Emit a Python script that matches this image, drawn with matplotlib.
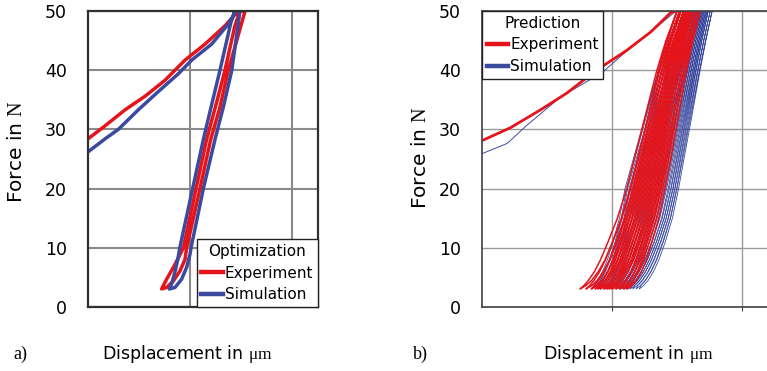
import matplotlib
matplotlib.use("Agg")
import matplotlib.pyplot as plt
from matplotlib.lines import Line2D

plt.rcParams['font.family'] = ['DejaVu Sans']
plt.rcParams['mathtext.fontset'] = 'custom'
plt.rcParams['mathtext.rm'] = 'Liberation Serif'
plt.rcParams['mathtext.it'] = 'Liberation Serif'

RED = "#E5141B"
BLUE = "#3B4A9E"

# ---- panel a) optimization: one loop, x in grid units, force in N ----
a_exp_x = [0.0, 0.167, 0.363, 0.559, 0.755, 0.951, 1.147, 1.343, 1.441, 1.50,
           1.54, 1.376, 1.29, 1.203, 1.098, 0.967, 0.951, 0.902, 0.837, 0.771, 0.722,
           0.771, 0.837, 0.886, 0.935, 1.059, 1.163, 1.26, 1.343, 1.44, 1.49]
a_exp_f = [28.4, 30.6, 33.3, 35.6, 38.3, 41.7, 44.4, 47.5, 49.4, 50.0,
           50.0, 40.0, 33.5, 28.3, 20.0, 10.0, 8.05, 6.1, 4.4, 3.3, 3.05,
           4.7, 6.7, 8.3, 10.0, 20.0, 28.3, 34.5, 40.0, 47.5, 50.0]

a_sim_x = [0.0, 0.167, 0.297, 0.493, 0.69, 0.886, 1.016, 1.212, 1.376, 1.425, 1.44,
           1.49, 1.41, 1.33, 1.245, 1.131, 1.01, 1.0, 0.967, 0.918, 0.853, 0.797,
           0.82, 0.855, 0.88, 0.90, 1.026, 1.131, 1.21, 1.294, 1.40, 1.44]
a_sim_f = [26.2, 28.4, 30.0, 33.3, 36.4, 39.4, 41.7, 44.4, 47.8, 49.2, 50.0,
           50.0, 40.0, 34.0, 28.3, 20.0, 10.0, 8.9, 6.7, 4.7, 3.3, 3.05,
           3.9, 6.1, 8.0, 10.0, 20.0, 28.3, 34.0, 40.0, 48.0, 50.0]

# ---- panel b) prediction: first loading, then many cycles ----
b_exp_x0 = [0.0, 0.22, 0.45, 0.65, 0.88, 1.11, 1.30, 1.45, 1.48]
b_exp_f0 = [28.1, 30.3, 33.3, 36.1, 40.0, 43.3, 46.5, 49.7, 50.0]
b_sim_x0 = [0.0, 0.19, 0.215, 0.34, 0.60, 0.93, 1.11, 1.30, 1.47, 1.50]
b_sim_f0 = [25.9, 27.6, 28.05, 30.6, 35.4, 39.7, 43.2, 46.5, 49.6, 50.0]

# loop shape below 20 N (share of tip->mid) and above 20 N (share of mid->top)
exp_low_f = [3.05, 3.6, 4.5, 6, 8, 11, 15, 20]
exp_low_s = [0, 0.08, 0.18, 0.31, 0.44, 0.60, 0.80, 1.0]
exp_high_f = [25, 30, 35, 40, 45, 50]
exp_high_s = [0.15, 0.30, 0.45, 0.60, 0.78, 1.0]
exp_gap = [0, 0.015, 0.025, 0.03, 0.035, 0.035, 0.035, 0.03, 0.03, 0.025, 0.02, 0.015, 0.008, 0]

sim_low_f = [3.05, 3.6, 4.5, 6, 8, 11, 15, 20]
sim_low_s = [0, 0.10, 0.22, 0.36, 0.50, 0.66, 0.84, 1.0]
sim_high_f = [25, 30, 35, 40, 45, 50]
sim_high_s = [0.16, 0.32, 0.48, 0.64, 0.81, 1.0]
sim_gap = [0.02, 0.02, 0.02, 0.018, 0.016, 0.015, 0.014, 0.012, 0.01, 0.009, 0.007, 0.005, 0.003, 0]

# x at the lowest point, at 20 N and at the top of each cycle
exp_tip_x = [0.754, 0.80, 0.84, 0.87, 0.89, 0.91, 0.94, 0.96, 0.98, 1.00, 1.03, 1.06, 1.09, 1.115]
exp_mid_x = [1.113, 1.14, 1.16, 1.18, 1.20, 1.22, 1.24, 1.26, 1.28, 1.30, 1.32, 1.34, 1.36, 1.377]
exp_top_x = [1.50, 1.52, 1.53, 1.55, 1.56, 1.57, 1.58, 1.59, 1.60, 1.61, 1.62, 1.64, 1.66, 1.68]
sim_tip_x = [0.83, 0.855, 0.875, 0.895, 0.91, 0.925, 0.94, 0.955, 0.97, 0.985, 1.0,
             1.015, 1.03, 1.045, 1.06, 1.075, 1.09, 1.105, 1.12, 1.14, 1.165, 1.19]
sim_mid_x = [1.10, 1.12, 1.14, 1.16, 1.18, 1.20, 1.22, 1.24, 1.26, 1.28, 1.30,
             1.32, 1.34, 1.36, 1.38, 1.40, 1.42, 1.44, 1.455, 1.47, 1.485, 1.50]
sim_top_x = [1.50, 1.53, 1.55, 1.57, 1.585, 1.60, 1.61, 1.62, 1.63, 1.64, 1.65,
             1.66, 1.67, 1.68, 1.69, 1.70, 1.71, 1.72, 1.73, 1.74, 1.755, 1.77]

y_ticks = [0, 10, 20, 30, 40, 50]


def cycle(tip, mid, top, low_f, low_s, high_f, high_s, gap):
    up = [tip + s * (mid - tip) for s in low_s] + [mid + s * (top - mid) for s in high_s]
    fs = low_f + high_f
    down = [u + g for u, g in zip(up, gap)]
    return down[::-1] + up[1:], fs[::-1] + fs[1:]


def style(ax, xmax, grid_lw, grid_c, spine_c, spine_lw):
    ax.set_xlim(0, xmax)
    ax.set_ylim(0, 50)
    ax.set_yticks(y_ticks)
    ax.set_xticks([1, 2])
    ax.set_xticklabels([])
    ax.set_axisbelow(True)
    ax.grid(True, color=grid_c, lw=grid_lw)
    ax.tick_params(axis='y', length=0, pad=15, labelsize=12.5)
    for s in ax.spines.values():
        s.set_color(spine_c)
        s.set_linewidth(spine_lw)


fig = plt.figure(figsize=(7.67, 3.71), dpi=100)
ax1 = fig.add_axes([88 / 767, 64 / 371, 230 / 767, 296 / 371])
ax2 = fig.add_axes([482 / 767, 64 / 371, 288 / 767, 296 / 371])

# a)
style(ax1, 2.255, 1.5, "#8a8a8a", "#303030", 1.6)
ax1.tick_params(axis='x', length=0)
ax1.plot(a_exp_x, a_exp_f, color=RED, lw=2.5, solid_joinstyle='round')
ax1.plot(a_sim_x, a_sim_f, color=BLUE, lw=2.5, solid_joinstyle='round')

# b)
style(ax2, 2.215, 1.0, "#9a9a9a", "#404040", 1.2)
ax2.spines['right'].set_visible(False)
ax2.tick_params(axis='x', length=3, width=0.8, color="#404040", direction='out')
ax2.plot(b_sim_x0, b_sim_f0, color=BLUE, lw=0.7)
for tip, mid, top in zip(sim_tip_x, sim_mid_x, sim_top_x):
    xs, fs = cycle(tip, mid, top, sim_low_f, sim_low_s, sim_high_f, sim_high_s, sim_gap)
    ax2.plot(xs, fs, color=BLUE, lw=0.6)
ax2.plot(b_exp_x0, b_exp_f0, color=RED, lw=2.0)
for tip, mid, top in zip(exp_tip_x, exp_mid_x, exp_top_x):
    xs, fs = cycle(tip, mid, top, exp_low_f, exp_low_s, exp_high_f, exp_high_s, exp_gap)
    ax2.plot(xs, fs, color=RED, lw=1.1)

handles = [Line2D([], [], color=RED, lw=3.2), Line2D([], [], color=BLUE, lw=3.2)]
labels = ["Experiment", "Simulation"]
for ax, title, loc in [(ax1, "Optimization", "lower right"), (ax2, "Prediction", "upper left")]:
    leg = ax.legend(handles, labels, title=title, loc=loc, borderaxespad=0,
                    fancybox=False, edgecolor="#222222", framealpha=1,
                    fontsize=11, title_fontsize=11, handlelength=1.4,
                    handletextpad=0.15, borderpad=0.3, labelspacing=0.45)
    leg.get_frame().set_linewidth(1.0)

# axis texts
fig.text(17 / 767, 1 - 152 / 371, r"Force in $\mathrm{N}$", rotation=90,
         ha='center', va='center', fontsize=14.5)
fig.text(421 / 767, 1 - 158 / 371, r"Force in $\mathrm{N}$", rotation=90,
         ha='center', va='center', fontsize=14.5)
fig.text(187 / 767, 1 - 354 / 371, r"Displacement in $\mathrm{\mu m}$",
         ha='center', va='center', fontsize=12.5)
fig.text(628 / 767, 1 - 354 / 371, r"Displacement in $\mathrm{\mu m}$",
         ha='center', va='center', fontsize=12.5)
fig.text(13 / 767, 1 - 354 / 371, "a)", ha='left', va='center',
         fontsize=13, family='Liberation Serif')
fig.text(413 / 767, 1 - 354 / 371, "b)", ha='left', va='center',
         fontsize=13, family='Liberation Serif')

fig.savefig("out.png", dpi=100)
